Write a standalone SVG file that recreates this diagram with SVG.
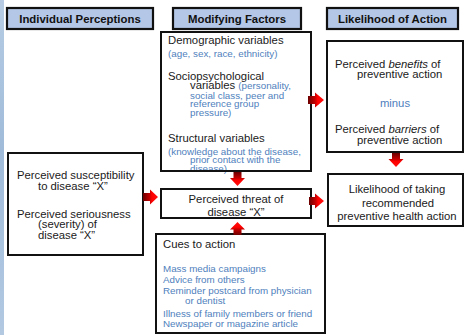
<svg xmlns="http://www.w3.org/2000/svg" width="466" height="335" viewBox="0 0 466 335">
<defs>
<style>
.box{fill:#fff;stroke:#111;stroke-width:2}
.hdr{fill:#b4c7e7;stroke:#111;stroke-width:2.2}
.h{font-family:"Liberation Sans",Arial,sans-serif;font-size:11.4px;font-weight:bold;fill:#111;text-anchor:middle}
.t{font-family:"Liberation Sans",Arial,sans-serif;font-size:11.3px;fill:#1a1a1a}
.c{text-anchor:middle}
.b{font-family:"Liberation Sans",Arial,sans-serif;font-size:9.8px;fill:#4f7fbd}
.bl{fill:#4f7fbd}
</style>
<linearGradient id="gR" x1="0" y1="0" x2="1" y2="0">
<stop offset="0" stop-color="#6a0000"/><stop offset="0.45" stop-color="#c80000"/><stop offset="0.6" stop-color="#ff0000"/><stop offset="1" stop-color="#ff1010"/>
</linearGradient>
<linearGradient id="gD" x1="0" y1="0" x2="0" y2="1">
<stop offset="0" stop-color="#6a0000"/><stop offset="0.45" stop-color="#c80000"/><stop offset="0.6" stop-color="#ff0000"/><stop offset="1" stop-color="#ff1010"/>
</linearGradient>
<linearGradient id="gU" x1="0" y1="1" x2="0" y2="0">
<stop offset="0" stop-color="#6a0000"/><stop offset="0.45" stop-color="#c80000"/><stop offset="0.6" stop-color="#ff0000"/><stop offset="1" stop-color="#ff1010"/>
</linearGradient>
<linearGradient id="strip" x1="0" y1="0" x2="0" y2="1">
<stop offset="0" stop-color="#b7cce4"/><stop offset="0.45" stop-color="#9fbbd9"/><stop offset="1" stop-color="#b3c9e2"/>
</linearGradient>
</defs>
<rect x="0" y="0" width="466" height="335" fill="#fff"/>
<rect x="0" y="0" width="4" height="335" fill="url(#strip)"/>

<g id="hdr-individual">
<rect class="hdr" x="7" y="8" width="146" height="21"/>
<text class="h" x="80" y="22.5">Individual Perceptions</text>
</g>
<g id="hdr-modifying">
<rect class="hdr" x="173" y="8" width="128" height="21"/>
<text class="h" x="237" y="22.5">Modifying Factors</text>
</g>
<g id="hdr-likelihood">
<rect class="hdr" x="327" y="8" width="131" height="21"/>
<text class="h" x="392.5" y="22.5">Likelihood of Action</text>
</g>

<g id="modifying">
<rect x="161" y="32" width="150" height="139" fill="#fff"/>
<text class="t" x="168" y="44.3">Demographic variables</text>
<text class="b" x="168" y="56.7">(age, sex, race, ethnicity)</text>
<text class="t" x="168" y="80.4">Sociopsychological</text>
<text class="t" x="190" y="89.3">variables <tspan class="bl" style="font-size:9.8px">(personality,</tspan></text>
<text class="b" x="190" y="99">social class, peer and</text>
<text class="b" x="190" y="107.3">reference group</text>
<text class="b" x="190" y="116">pressure)</text>
<text class="t" x="168" y="141.7">Structural variables</text>
<text class="b" x="168" y="155">(knowledge about the disease,</text>
<text class="b" x="190" y="163.3">prior contact with the</text>
<text class="b" x="190" y="171.7">disease)</text>
<rect x="161" y="32" width="150" height="139" fill="none" stroke="#111" stroke-width="2"/>
</g>

<g id="individual">
<rect class="box" x="8" y="153" width="135" height="102"/>
<text class="t" x="17" y="179.3">Perceived susceptibility</text>
<text class="t" x="38" y="190">to disease “X”</text>
<text class="t" x="17" y="217.7">Perceived seriousness</text>
<text class="t" x="38" y="228.3">(severity) of</text>
<text class="t" x="38" y="238.5">disease “X”</text>
</g>

<g id="threat">
<rect class="box" x="161" y="189" width="150" height="29"/>
<text class="t c" x="236" y="203">Perceived threat of</text>
<text class="t c" x="236" y="216">disease “X”</text>
</g>

<g id="cues">
<rect class="box" x="156" y="234" width="169" height="99"/>
<text class="t" x="163" y="248.3">Cues to action</text>
<text class="b" x="163" y="271.7">Mass media campaigns</text>
<text class="b" x="163" y="282.7">Advice from others</text>
<text class="b" x="163" y="294">Reminder postcard from physician</text>
<text class="b" x="185" y="304.3">or dentist</text>
<text class="b" x="163" y="316.7">Illness of family members or friend</text>
<text class="b" x="163" y="326.7">Newspaper or magazine article</text>
</g>

<g id="benefits">
<rect class="box" x="327" y="41" width="136" height="111"/>
<text class="t" x="335" y="68.3">Perceived <tspan font-style="italic">benefits</tspan> of</text>
<text class="t" x="357" y="78.3">preventive action</text>
<text class="b" x="395" y="106.7" style="font-size:11.3px;text-anchor:middle">minus</text>
<text class="t" x="335" y="133.3">Perceived <tspan font-style="italic">barriers</tspan> of</text>
<text class="t" x="357" y="144">preventive action</text>
</g>

<g id="likelihood">
<rect class="box" x="328" y="174" width="135" height="52"/>
<text class="t c" x="397" y="192.7">Likelihood of taking</text>
<text class="t c" x="398" y="206.7">recommended</text>
<text class="t c" x="397" y="220">preventive health action</text>
</g>

<g id="connectors">
<path d="M143,193 H150 V189.5 L158,197 L150,204.5 V201 H143 Z" fill="url(#gR)"/>
<path d="M308,96 H315 V92.5 L324,100 L315,107.5 V104 H308 Z" fill="url(#gR)"/>
<path d="M309,197 H315 V193.5 L324,201 L315,208.5 V205 H309 Z" fill="url(#gR)"/>
<path d="M233.5,172 V178 H230 L237.5,186 L245,178 H241.5 V172 Z" fill="url(#gD)"/>
<path d="M392,153 V159 H388.5 L396,167 L403.5,159 H400 V153 Z" fill="url(#gD)"/>
<path d="M233.5,235 V229.5 H230 L237.5,222 L245,229.5 H241.5 V235 Z" fill="url(#gU)"/>
</g>
</svg>
